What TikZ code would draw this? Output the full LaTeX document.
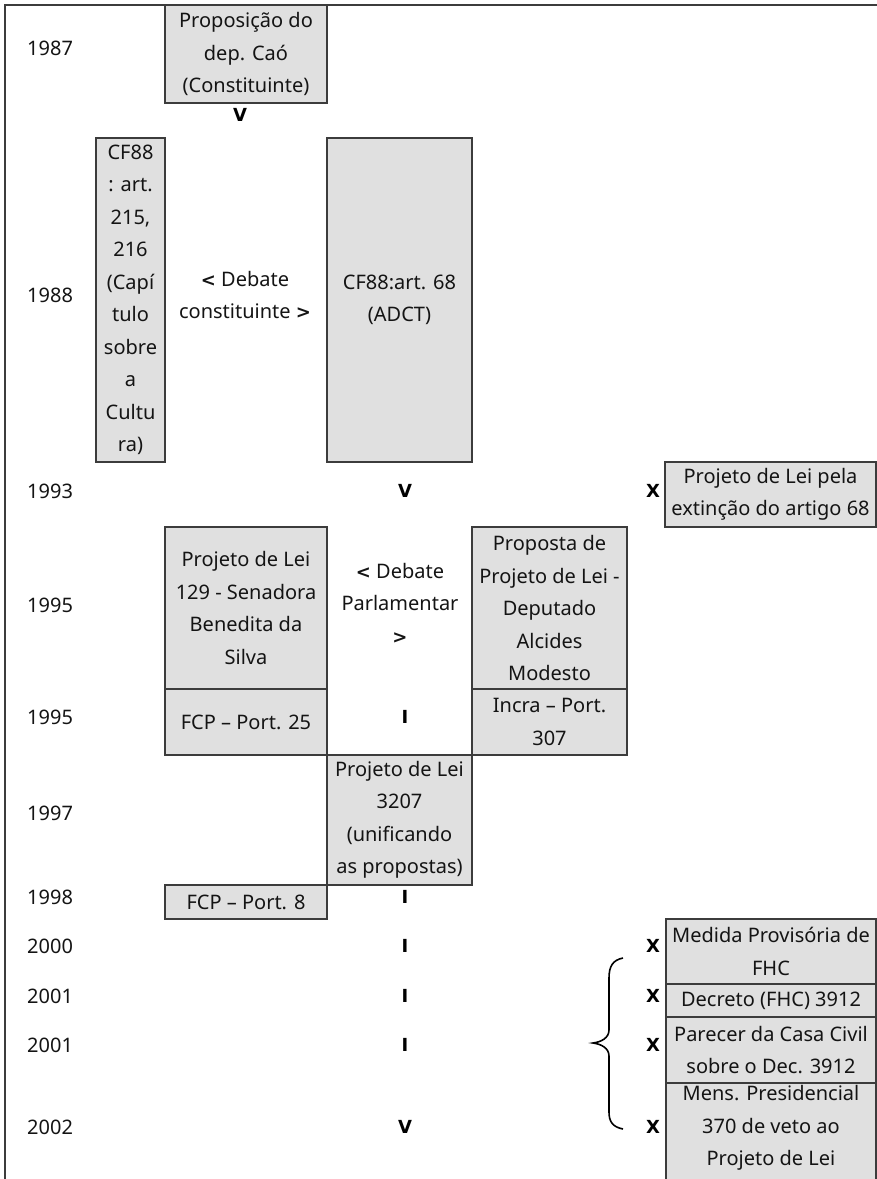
\documentclass[tikz,border=0pt]{standalone}
\usepackage{fontspec}
\setmainfont{Noto Sans}
\newfontfamily\markfam{DejaVu Sans}
\definecolor{boxfill}{RGB}{224,224,224}
\definecolor{boxline}{RGB}{60,60,60}
\definecolor{txt}{RGB}{20,20,20}
\newcommand{\txtfont}{\fontsize{20}{32.5}\selectfont}
\newcommand{\mkfont}{\markfam\fontsize{18}{20}\selectfont\bfseries}
\newcommand{\bsym}[1]{{\markfam\bfseries\fontsize{18}{20}\selectfont #1}}
\begin{document}
\begin{tikzpicture}[x=1pt,y=-1pt,
  box/.style={draw=boxline, fill=boxfill, line width=1.3pt, inner sep=0pt, align=center, font=\txtfont, text=txt},
  lbl/.style={inner sep=0pt, align=center, font=\txtfont, text=txt},
  mk/.style={inner sep=0pt, font=\mkfont, text=black},
  yr/.style={anchor=west, inner sep=0pt, font=\txtfont, text=txt},
  frameline/.style={draw=boxline, line width=1.5pt},
  bracestyle/.style={draw=black, line width=1.6pt}]
\useasboundingbox (0,0) rectangle (877,1179);
% frame
\coordinate (fbl) at (5,1179);
\coordinate (ftl) at (5,5);
\coordinate (ftr) at (877,5);
\draw[frameline] (fbl) -- (ftl) -- (ftr);

% year labels
\node[yr] (y1987) at (27,48) {1987};
\node[yr] (y1988) at (27,295) {1988};
\node[yr] (y1993) at (27,491) {1993};
\node[yr] (y1995a) at (27,605) {1995};
\node[yr] (y1995b) at (27,717) {1995};
\node[yr] (y1997) at (27,813) {1997};
\node[yr] (y1998) at (27,897) {1998};
\node[yr] (y2000) at (27,946) {2000};
\node[yr] (y2001a) at (27,996) {2001};
\node[yr] (y2001b) at (27,1045) {2001};
\node[yr] (y2002) at (27,1127) {2002};

% boxes
\node[box, minimum width=162, minimum height=98] (b1987) at (246,54) {Proposição do\\dep. Caó\\(Constituinte)};
\node[box, minimum width=69, minimum height=324] (cf88a) at (130.5,300) {CF88\\: art.\\215,\\216\\(Capí\\tulo\\sobre\\a\\Cultu\\ra)};
\node[box, minimum width=145, minimum height=324] (cf88b) at (399.5,300) {CF88:art. 68\\(ADCT)};
\node[box, minimum width=211, minimum height=65] (pl68) at (770.5,494.5) {Projeto de Lei pela\\extinção do artigo 68};
\node[box, minimum width=162, minimum height=162] (pl129) at (246,608) {Projeto de Lei\\129 - Senadora\\Benedita da\\Silva};
\node[box, minimum width=155, minimum height=162] (prop) at (549.5,608) {Proposta de\\Projeto de Lei -\\Deputado\\Alcides\\Modesto};
\node[box, minimum width=162, minimum height=66] (fcp25) at (246,722) {FCP -- Port. 25};
\node[box, minimum width=155, minimum height=66] (incra) at (549.5,722) {Incra -- Port.\\307};
\node[box, minimum width=145, minimum height=130] (pl3207) at (399.5,820) {Projeto de Lei\\3207\\(unificando\\as propostas)};
\node[box, minimum width=162, minimum height=34] (fcp8) at (246,902) {FCP -- Port. 8};
\node[box, minimum width=210, minimum height=65] (medida) at (771,951.5) {Medida Provisória de\\FHC};
\node[box, minimum width=210, minimum height=33] (decreto) at (771,1000.5) {Decreto (FHC) 3912};
\node[box, minimum width=210, minimum height=66] (parecer) at (771,1050) {Parecer da Casa Civil\\sobre o Dec. 3912};
\node[box, minimum width=210, minimum height=117, anchor=north] (mens) at (771,1083) {};
\node[lbl] (menstxt) at (771,1128) {Mens. Presidencial\\370 de veto ao\\Projeto de Lei};

% debate labels
\node[lbl] (deb1) at (245,295) {\bsym{<} Debate\\constituinte \bsym{>}};
\node[lbl] (deb2) at (400,603) {\bsym{<} Debate\\Parlamentar\\\bsym{>}};

% marks
\node[mk] (v1) at (240,115) {V};
\node[mk] (v2) at (405,491) {V};
\node[mk] (x1) at (653,491) {X};
\node[mk] (i1) at (405,717) {I};
\node[mk] (i2) at (405,897) {I};
\node[mk] (i3) at (405,946) {I};
\node[mk] (i4) at (405,996) {I};
\node[mk] (i5) at (405,1045) {I};
\node[mk] (v3) at (405,1127) {V};
\node[mk] (x2) at (653,946) {X};
\node[mk] (x3) at (653,996) {X};
\node[mk] (x4) at (653,1045) {X};
\node[mk] (x5) at (653,1127) {X};

% brace
\draw[bracestyle] (623,958) .. controls (613,960) and (609,966) .. (609,978) -- (609,1030)
  .. controls (609,1038) and (601,1042) .. (593,1043)
  .. controls (601,1044) and (609,1048) .. (609,1056) -- (609,1112)
  .. controls (609,1122) and (613,1127) .. (623,1129);
\end{tikzpicture}
\end{document}
